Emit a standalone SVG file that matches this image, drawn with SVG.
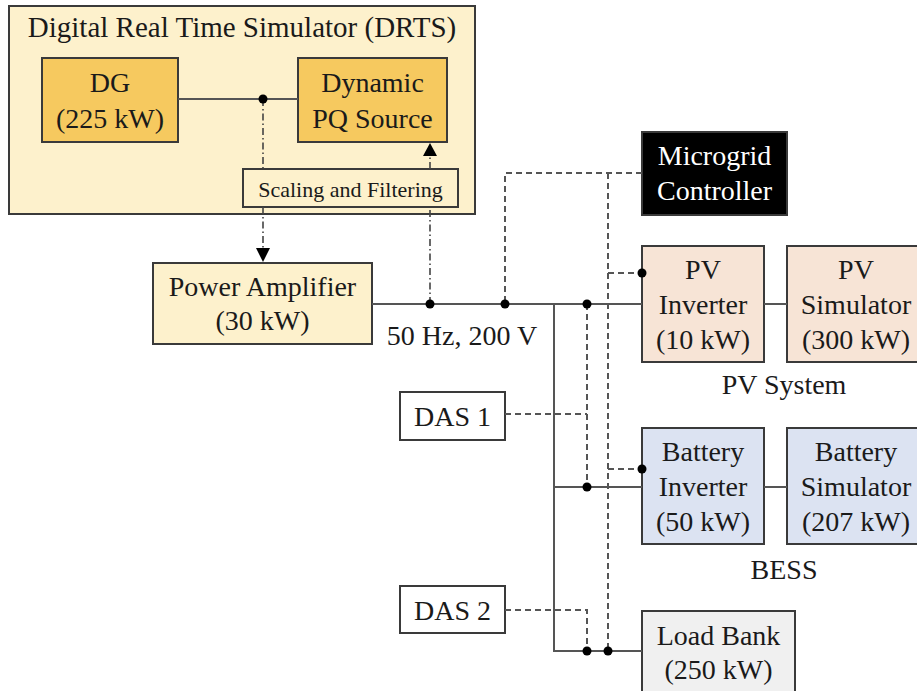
<svg xmlns="http://www.w3.org/2000/svg" width="917" height="691" viewBox="0 0 917 691">
  <style>
    .box { stroke: #3a3a3a; stroke-width: 2; }
    .t { font-family: "Liberation Serif", "Times New Roman", serif; font-size: 28px; fill: #1a1a1a; text-anchor: middle; }
    .title { font-size: 29px; }
    .small { font-size: 22px; }
    .white { fill: #ffffff; }
    .wire { fill: none; stroke: #555555; stroke-width: 2; }
    .ctrl { fill: none; stroke: #555555; stroke-width: 2; stroke-dasharray: 6 4; }
    .sig { fill: none; stroke: #444444; stroke-width: 1.6; stroke-dasharray: 7 3 1.5 3; }
    .dot { fill: #000000; }
    .head { fill: #000000; }
  </style>

  <rect width="917" height="691" fill="#ffffff"/>

  <!-- simulator enclosure -->
  <g id="drts">
    <rect class="box" x="9" y="6" width="466" height="208" fill="#fdf1cc"/>
    <text class="t title" x="242" y="37">Digital Real Time Simulator (DRTS)</text>
  </g>

  <g id="dg">
    <rect class="box" x="42" y="58" width="136" height="84" fill="#f6c95f"/>
    <text class="t" x="110" y="92">DG</text>
    <text class="t" x="110" y="128">(225 kW)</text>
  </g>

  <g id="pq-source">
    <rect class="box" x="298" y="58" width="149" height="84" fill="#f6c95f"/>
    <text class="t" x="372.5" y="92">Dynamic</text>
    <text class="t" x="372.5" y="128">PQ Source</text>
  </g>

  <g id="scaling">
    <rect class="box" x="243" y="169" width="215" height="38" fill="#fdf1cc"/>
    <text class="t small" x="350.5" y="197">Scaling and Filtering</text>
  </g>

  <g id="power-amplifier">
    <rect class="box" x="153" y="263" width="219" height="81" fill="#fdf1cc"/>
    <text class="t" x="262.5" y="296">Power Amplifier</text>
    <text class="t" x="262.5" y="330">(30 kW)</text>
  </g>

  <g id="microgrid-controller">
    <rect class="box" x="642" y="132" width="145" height="83" fill="#000000"/>
    <text class="t white" x="714.5" y="165">Microgrid</text>
    <text class="t white" x="714.5" y="200">Controller</text>
  </g>

  <g id="pv-inverter">
    <rect class="box" x="642" y="246" width="122" height="116" fill="#f7e4d6"/>
    <text class="t" x="703" y="279">PV</text>
    <text class="t" x="703" y="314">Inverter</text>
    <text class="t" x="703" y="349">(10 kW)</text>
  </g>

  <g id="pv-simulator">
    <rect class="box" x="787" y="246" width="138" height="116" fill="#f7e4d6"/>
    <text class="t" x="856" y="279">PV</text>
    <text class="t" x="856" y="314">Simulator</text>
    <text class="t" x="856" y="349">(300 kW)</text>
  </g>

  <g id="pv-system-label">
    <text class="t" x="784" y="394">PV System</text>
  </g>

  <g id="battery-inverter">
    <rect class="box" x="642" y="428" width="122" height="116" fill="#dce3f2"/>
    <text class="t" x="703" y="461">Battery</text>
    <text class="t" x="703" y="496">Inverter</text>
    <text class="t" x="703" y="531">(50 kW)</text>
  </g>

  <g id="battery-simulator">
    <rect class="box" x="787" y="428" width="138" height="116" fill="#dce3f2"/>
    <text class="t" x="856" y="461">Battery</text>
    <text class="t" x="856" y="496">Simulator</text>
    <text class="t" x="856" y="531">(207 kW)</text>
  </g>

  <g id="bess-label">
    <text class="t" x="784" y="579">BESS</text>
  </g>

  <g id="das1">
    <rect class="box" x="400" y="392" width="105" height="48" fill="#ffffff"/>
    <text class="t" x="452.5" y="426">DAS 1</text>
  </g>

  <g id="das2">
    <rect class="box" x="400" y="586" width="105" height="47" fill="#ffffff"/>
    <text class="t" x="452.5" y="620">DAS 2</text>
  </g>

  <g id="load-bank">
    <rect class="box" x="642" y="611" width="153" height="100" fill="#f0f0f0"/>
    <text class="t" x="718.5" y="645">Load Bank</text>
    <text class="t" x="718.5" y="679">(250 kW)</text>
  </g>

  <g id="bus-label">
    <text class="t" x="462" y="345">50 Hz, 200 V</text>
  </g>

  <g id="connectors">
    <!-- power wiring -->
    <path class="wire" d="M178 99 H298"/>
    <path class="wire" d="M372 304 H642"/>
    <path class="wire" d="M554 304 V651 H642"/>
    <path class="wire" d="M554 487 H642"/>
    <path class="wire" d="M764 304 H787"/>
    <path class="wire" d="M764 487 H787"/>

    <!-- simulator signal loop -->
    <path class="sig" d="M263 99 V169"/>
    <path class="sig" d="M263 207 V248"/>
    <polygon class="head" points="256,248 270,248 263,262"/>
    <path class="sig" d="M430 304 V207"/>
    <path class="sig" d="M430 169 V156"/>
    <polygon class="head" points="423,156 437,156 430,143"/>

    <!-- controller links -->
    <path class="ctrl" d="M642 173 H505 V304"/>
    <path class="ctrl" d="M608 173 V651"/>
    <path class="ctrl" d="M608 273 H642"/>
    <path class="ctrl" d="M608 469 H642"/>

    <!-- measurement links -->
    <path class="ctrl" d="M505 414 H587"/>
    <path class="ctrl" d="M587 304 V487"/>
    <path class="ctrl" d="M505 610 H587 V651"/>

    <!-- junctions -->
    <circle class="dot" cx="263" cy="99" r="4.5"/>
    <circle class="dot" cx="430" cy="304" r="4.5"/>
    <circle class="dot" cx="505" cy="304" r="4.5"/>
    <circle class="dot" cx="587" cy="304" r="4.5"/>
    <circle class="dot" cx="587" cy="487" r="4.5"/>
    <circle class="dot" cx="587" cy="651" r="4.5"/>
    <circle class="dot" cx="608" cy="651" r="4.5"/>
    <circle class="dot" cx="642" cy="273" r="4.5"/>
    <circle class="dot" cx="642" cy="469" r="4.5"/>
  </g>
</svg>
